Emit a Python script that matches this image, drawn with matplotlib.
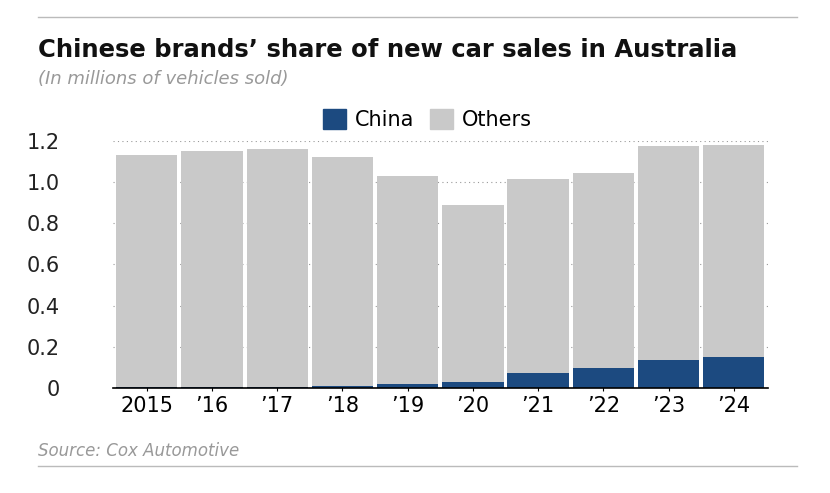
import matplotlib.pyplot as plt
import numpy as np

years = ["2015", "\u201916", "\u201917", "\u201918", "\u201919", "\u201920", "\u201921", "\u201922", "\u201923", "\u201924"]
totals = [1.13, 1.15, 1.16, 1.12, 1.03, 0.89, 1.015, 1.045, 1.175, 1.18]
china = [0.003, 0.003, 0.005, 0.01, 0.02, 0.03, 0.075, 0.095, 0.135, 0.15]
others = [t - c for t, c in zip(totals, china)]
yticks = [0, 0.2, 0.4, 0.6, 0.8, 1.0, 1.2]
ylabels = ["0", "0.2", "0.4", "0.6", "0.8", "1.0", "1.2"]

navy = "#1c4a80"
grey = "#c9c9c9"

fig = plt.figure(figsize=(8.30, 4.93), dpi=100)
ax = fig.add_axes([0.136, 0.213, 0.789, 0.501])
x = np.arange(len(years))
ax.bar(x, china, width=0.94, color=navy, zorder=3)
ax.bar(x, others, bottom=china, width=0.94, color=grey, zorder=3)
ax.set_xlim(-0.52, len(years) - 0.48)
ax.set_ylim(0, 1.2)
ax.set_yticks(yticks)
ax.set_yticklabels(ylabels)
ax.grid(axis="y", linestyle=(0, (1, 3)), color="#999999", linewidth=0.8, zorder=0)
for s in ["left", "right", "top"]:
    ax.spines[s].set_visible(False)
ax.spines["bottom"].set_color("black")
ax.spines["bottom"].set_linewidth(1.2)
ax.spines["bottom"].set_zorder(5)
ax.set_xticks(x)
ax.set_xticklabels(years)
ax.tick_params(axis="y", length=0, labelsize=15, colors="#222222", pad=38)
for lbl in ax.get_yticklabels():
    lbl.set_horizontalalignment("right")
ax.tick_params(axis="x", length=4, labelsize=15, colors="#222222", direction="inout")
ax.tick_params(axis="x", colors="black")

fig.text(0.046, 0.885, "Chinese brands\u2019 share of new car sales in Australia", fontsize=17.5, fontweight="bold", color="#111111")
fig.text(0.046, 0.83, "(In millions of vehicles sold)", fontsize=13, style="italic", color="#999999")
fig.text(0.046, 0.075, "Source: Cox Automotive", fontsize=12, style="italic", color="#999999")

from matplotlib.patches import Patch
leg = fig.legend(handles=[Patch(color=navy), Patch(color=grey)], labels=["China", "Others"],
                 loc="center", bbox_to_anchor=(0.515, 0.758), ncol=2, frameon=False,
                 fontsize=15, handlelength=1.1, handleheight=1.1, columnspacing=0.8, handletextpad=0.4)

fig.add_artist(plt.Line2D([0.046, 0.96], [0.965, 0.965], color="#bbbbbb", lw=1))
fig.add_artist(plt.Line2D([0.046, 0.96], [0.055, 0.055], color="#bbbbbb", lw=1))
fig.savefig("out.png", dpi=100)
